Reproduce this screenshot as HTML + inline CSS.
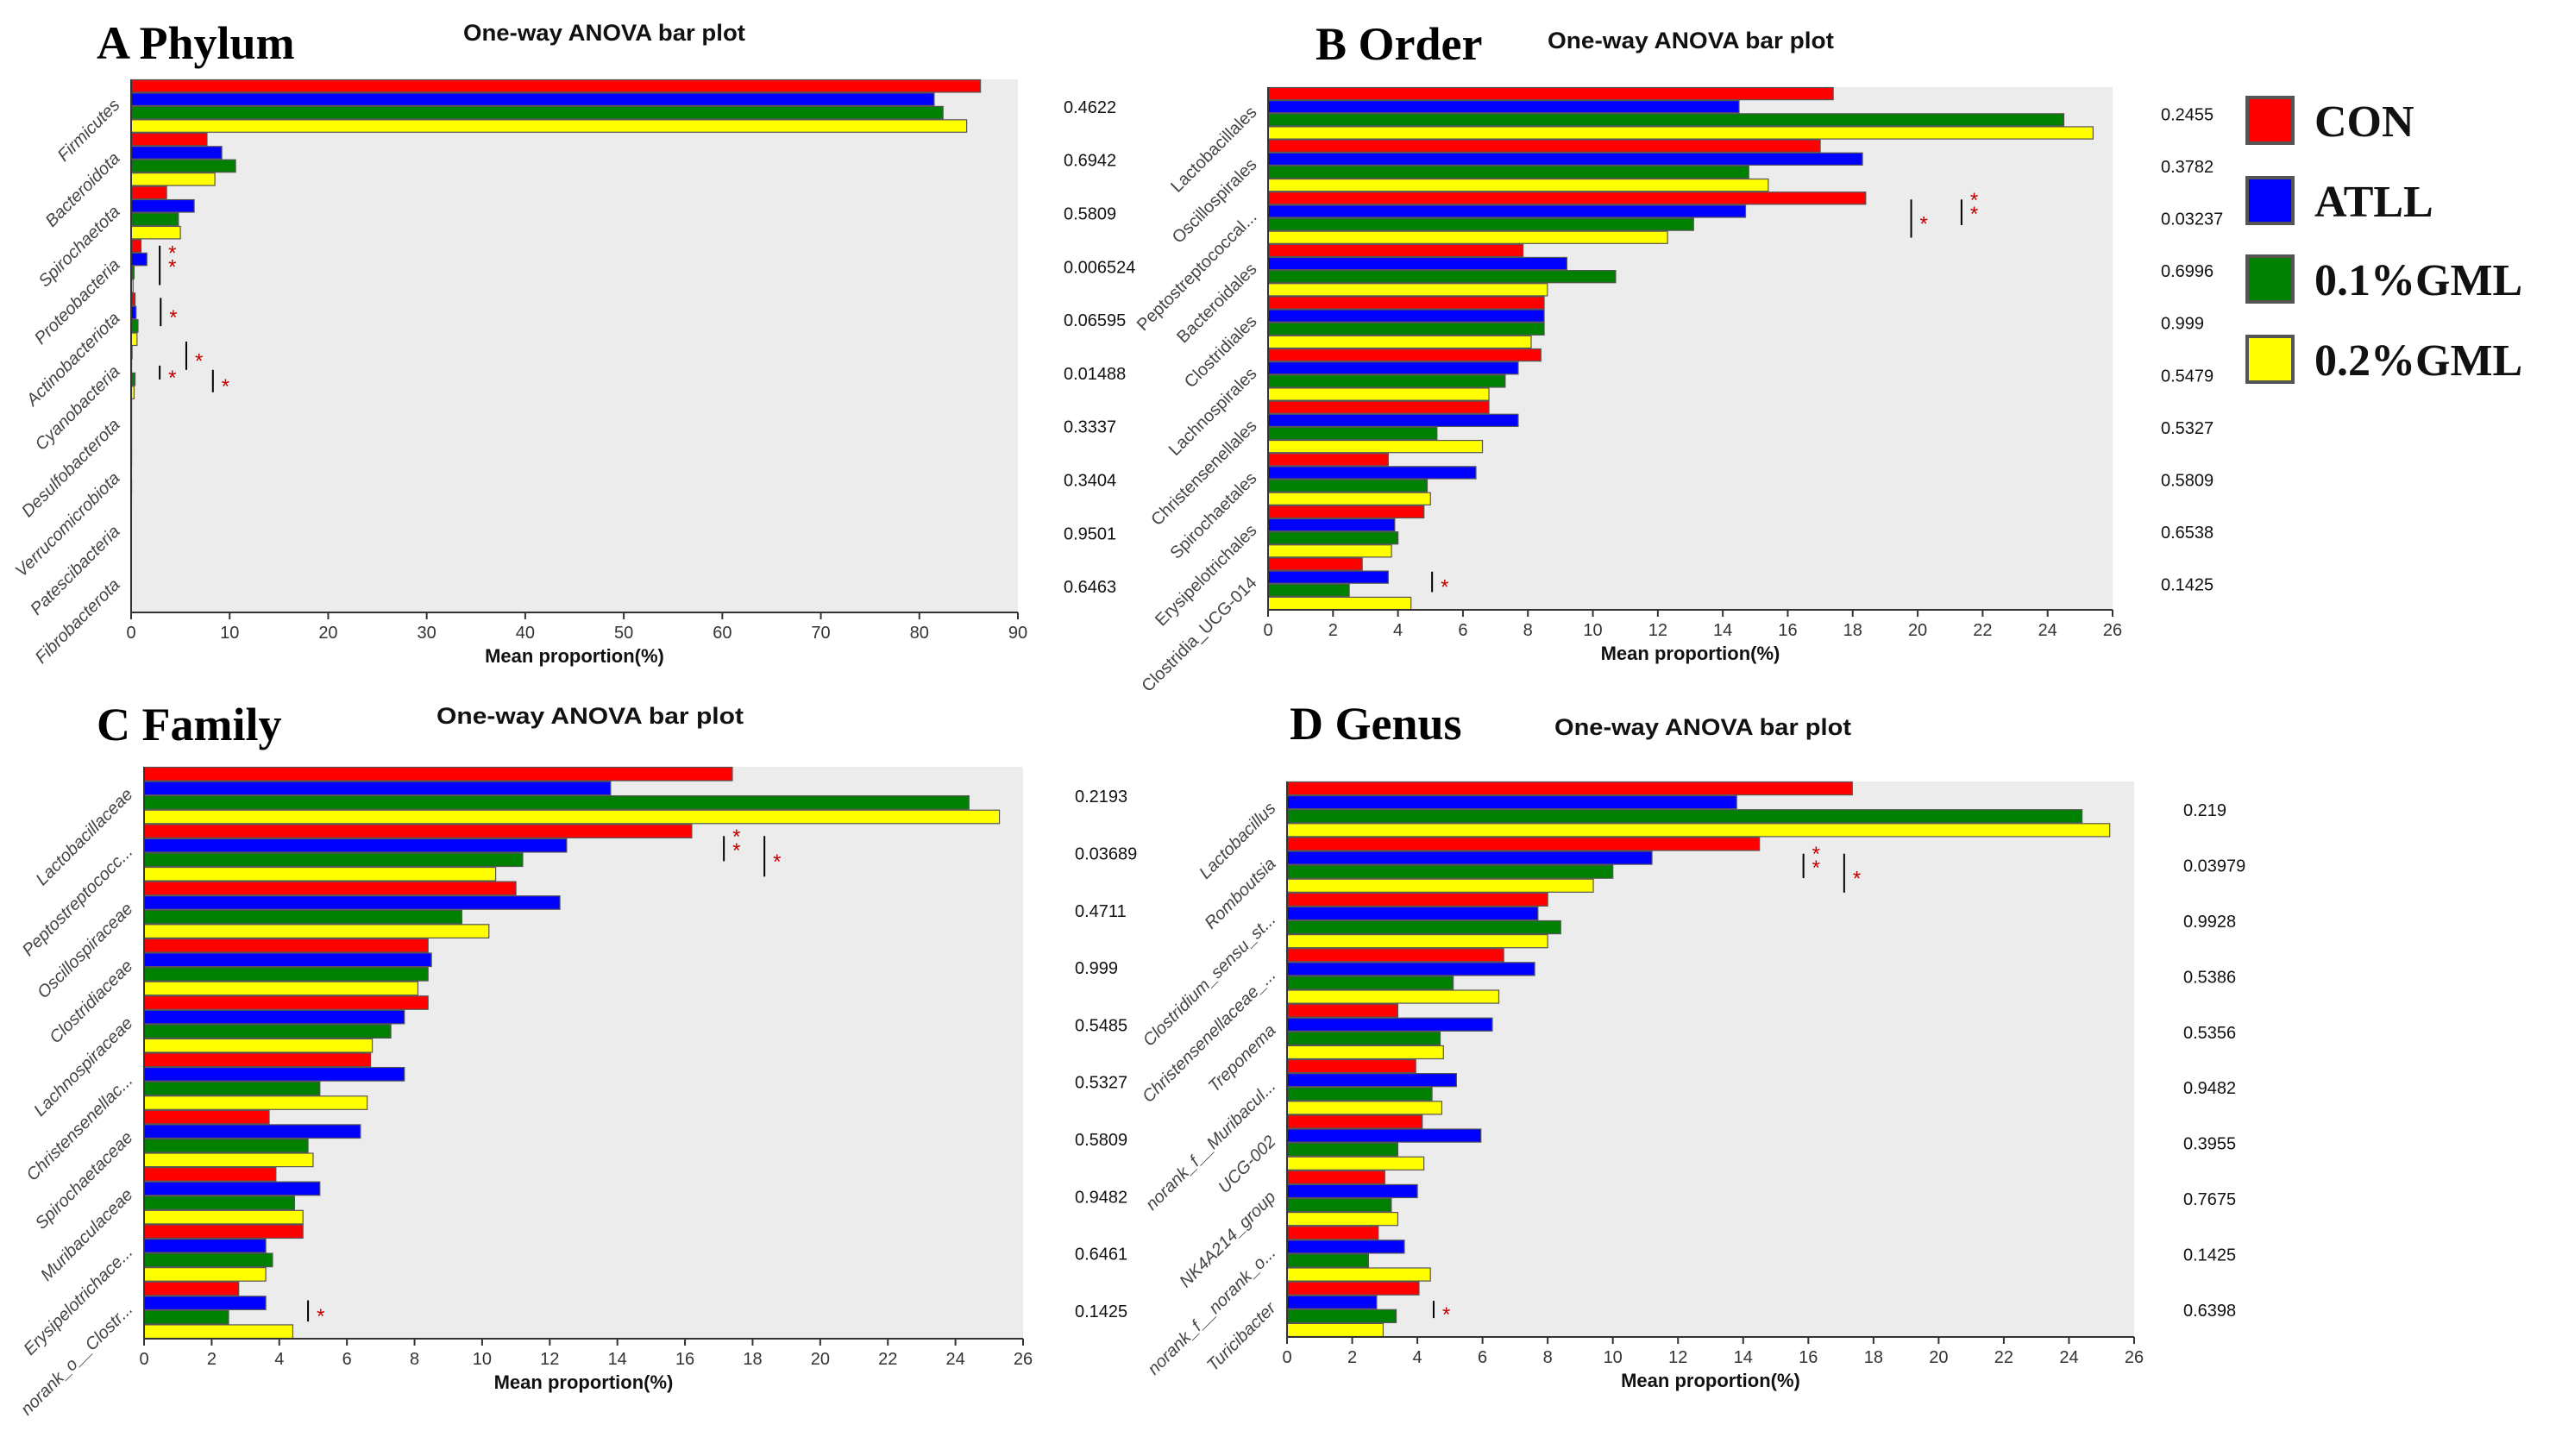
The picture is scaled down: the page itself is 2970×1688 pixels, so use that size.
<!DOCTYPE html>
<html><head><meta charset="utf-8">
<style>
html,body{margin:0;padding:0;background:#fff;}
svg{display:block;}
text{font-family:"Liberation Sans",sans-serif;}
</style></head>
<body>
<svg id="fig" width="2970" height="1688" viewBox="0 0 2970 1688" xmlns="http://www.w3.org/2000/svg"></svg>
<script>
// ---- Shared ----
const groups = ["CON","ATLL","0.1%GML","0.2%GML"];
const groupColors = ["#ff0000","#0000ff","#008000","#ffff00"];

// ---- Panel A: Phylum ----
const catsA = ["Firmicutes","Bacteroidota","Spirochaetota","Proteobacteria","Actinobacteriota","Cyanobacteria","Desulfobacterota","Verrucomicrobiota","Patescibacteria","Fibrobacterota"];
const conA  = [86.2,7.7,3.6,1.0,0.4,0.1,0.05,0.05,0.03,0.03];
const atllA = [81.5,9.2,6.4,1.6,0.5,0.05,0.05,0.04,0.03,0.03];
const g1A   = [82.4,10.6,4.8,0.3,0.7,0.4,0.05,0.05,0.03,0.03];
const g2A   = [84.8,8.5,5.0,0.2,0.6,0.3,0.05,0.04,0.03,0.03];
const pA    = ["0.4622","0.6942","0.5809","0.006524","0.06595","0.01488","0.3337","0.3404","0.9501","0.6463"];
const ticksA = [0,10,20,30,40,50,60,70,80,90];
const sigA = [[3,2.9,0.12,0.86,"**"],[4,3.0,0.1,0.63,"*"],[5,5.6,-0.08,0.45,"*"],[5,2.9,0.37,0.63,"*"],[5,8.3,0.45,0.87,"*"]];

// ---- Panel B: Order ----
const catsB = ["Lactobacillales","Oscillospirales","Peptostreptococcal...","Bacteroidales","Clostridiales","Lachnospirales","Christensenellales","Spirochaetales","Erysipelotrichales","Clostridia_UCG-014"];
const conB  = [17.4,17.0,18.4,7.85,8.5,8.4,6.8,3.7,4.8,2.9];
const atllB = [14.5,18.3,14.7,9.2,8.5,7.7,7.7,6.4,3.9,3.7];
const g1B   = [24.5,14.8,13.1,10.7,8.5,7.3,5.2,4.9,4.0,2.5];
const g2B   = [25.4,15.4,12.3,8.6,8.1,6.8,6.6,5.0,3.8,4.4];
const pB    = ["0.2455","0.3782","0.03237","0.6996","0.999","0.5479","0.5327","0.5809","0.6538","0.1425"];
const ticksB = [0,2,4,6,8,10,12,14,16,18,20,22,24,26];
const sigB = [[2,19.8,0.15,0.88,"*"],[2,21.35,0.15,0.64,"**"],[9,5.05,0.27,0.66,"*"]];

// ---- Panel C: Family ----
const catsC = ["Lactobacillaceae","Peptostreptococc...","Oscillospiraceae","Clostridiaceae","Lachnospiraceae","Christensenellac...","Spirochaetaceae","Muribaculaceae","Erysipelotrichace...","norank_o__Clostr..."];
const conC  = [17.4,16.2,11.0,8.4,8.4,6.7,3.7,3.9,4.7,2.8];
const atllC = [13.8,12.5,12.3,8.5,7.7,7.7,6.4,5.2,3.6,3.6];
const g1C   = [24.4,11.2,9.4,8.4,7.3,5.2,4.85,4.45,3.8,2.5];
const g2C   = [25.3,10.4,10.2,8.1,6.75,6.6,5.0,4.7,3.6,4.4];
const pC    = ["0.2193","0.03689","0.4711","0.999","0.5485","0.5327","0.5809","0.9482","0.6461","0.1425"];
const ticksC = [0,2,4,6,8,10,12,14,16,18,20,22,24,26];
const sigC = [[1,17.15,0.21,0.65,"**"],[1,18.35,0.21,0.92,"*"],[9,4.85,0.33,0.7,"*"]];

// ---- Panel D: Genus ----
const catsD = ["Lactobacillus","Romboutsia","Clostridium_sensu_st...","Christensenellaceae_...","Treponema","norank_f__Muribacul...","UCG-002","NK4A214_group","norank_f__norank_o...","Turicibacter"];
const conD  = [17.35,14.5,8.0,6.65,3.4,3.95,4.15,3.0,2.8,4.05];
const atllD = [13.8,11.2,7.7,7.6,6.3,5.2,5.95,4.0,3.6,2.75];
const g1D   = [24.4,10.0,8.4,5.1,4.7,4.45,3.4,3.2,2.5,3.35];
const g2D   = [25.25,9.4,8.0,6.5,4.8,4.75,4.2,3.4,4.4,2.95];
const pD    = ["0.219","0.03979","0.9928","0.5386","0.5356","0.9482","0.3955","0.7675","0.1425","0.6398"];
const ticksD = [0,2,4,6,8,10,12,14,16,18,20,22,24,26];
const sigD = [[1,15.85,0.3,0.74,"**"],[1,17.1,0.3,1.0,"*"],[9,4.5,0.35,0.66,"*"]];

const NS = "http://www.w3.org/2000/svg";
const svg = document.getElementById("fig");
function mk(tag, attrs, parent){
  const e = document.createElementNS(NS, tag);
  for (const k in attrs) e.setAttribute(k, attrs[k]);
  (parent||svg).appendChild(e);
  return e;
}
const SERIF = 'font-family:"Liberation Serif",serif;font-weight:bold;';

function panel(cfg, cats, series, pvals, ticks, sigs){
  const g = mk("g", {});
  
  
  const L=cfg.left, R=cfg.right, T=cfg.top, B=cfg.bottom, max=ticks[ticks.length-1];
  const xs = v => L + (v/max)*(R-L);
  const band = (B-T)/cats.length;
  const ys = i => T + i*band;

  const t = mk("text", {x:cfg.titleX, y:cfg.titleY, style:SERIF+"font-size:54px;", fill:"#000"}, g);
  t.setAttribute('xml:space','preserve');
  t.textContent = cfg.title;
  
  
  const st = mk("text", {x:cfg.subX, y:cfg.subY, "font-weight":"bold", "font-size":27, textLength:cfg.subW, lengthAdjust:"spacingAndGlyphs", fill:"#111"}, g);
  st.textContent = "One-way ANOVA bar plot";
  
  

  const bg = mk("rect", {x:L, y:T, width:R-L, height:B-T, fill:"#ececec"}, g);
  
  

  const bh = band/4;
  cats.forEach((c, i) => {
    series.forEach((s, k) => {
      const r = mk("rect", {x:L, y:ys(i)+k*bh+0.5, width:Math.max(0, xs(s[i])-L), height:bh-1, fill:groupColors[k], stroke:"#555", "stroke-width":1.2}, g);
      
      
    });
    const cx = L-12, cy = ys(i)+band/2;
    const lt = mk("text", {x:cx, y:cy, "text-anchor":"end", "font-size":20, fill:"#444", "font-style":cfg.italic?"italic":"normal", transform:`rotate(-45 ${cx} ${cy})`}, g);
    lt.textContent = c;
    
    
    const pt = mk("text", {x:cfg.pX, y:cy+8, "font-size":20, fill:"#111"}, g);
    pt.textContent = pvals[i];
    
    
  });

  sigs.forEach(s => {
    const [ci, xv, f0, f1, stars] = s;
    const x = xs(xv), y0 = ys(ci)+f0*band, y1 = ys(ci)+f1*band;
    const ln = mk("line", {x1:x, x2:x, y1:y0, y2:y1, stroke:"#000", "stroke-width":2}, g);
    
    
    const ym = (y0+y1)/2;
    if (stars === "**") {
      [ym-6, ym+10].forEach(yy => {
        const s1 = mk("text", {x:x+10, y:yy, "font-size":24, fill:"#c00000"}, g);
        s1.textContent = "*";
        
        
      });
    } else {
      const s1 = mk("text", {x:x+10, y:ym+14, "font-size":24, fill:"#c00000"}, g);
      s1.textContent = "*";
      
      
    }
  });

  const ax = mk("path", {d:`M${L},${T} V${B} H${R}`, stroke:"#333", "stroke-width":2, fill:"none"}, g);
  
  
  ticks.forEach(tv => {
    const x = xs(tv);
    const tk = mk("line", {x1:x, x2:x, y1:B, y2:B+8, stroke:"#333", "stroke-width":2}, g);
    
    
    const tl = mk("text", {x:x, y:B+30, "text-anchor":"middle", "font-size":20, fill:"#333"}, g);
    tl.textContent = tv;
    
    
  });
  const at = mk("text", {x:(L+R)/2, y:B+58, "text-anchor":"middle", "font-size":22, "font-weight":"bold", fill:"#111"}, g);
  at.textContent = "Mean proportion(%)";
  
  
}

panel({id:"phylum", left:152, right:1180, top:92, bottom:710, title:"A  Phylum", titleX:112, titleY:68, subX:537, subY:47, subW:327, pX:1233, italic:true},
  catsA, [conA,atllA,g1A,g2A], pA, ticksA, sigA);
panel({id:"order", left:1470, right:2449, top:101, bottom:707, title:"B  Order", titleX:1525, titleY:69, subX:1794, subY:56, subW:332, pX:2505, italic:false},
  catsB, [conB,atllB,g1B,g2B], pB, ticksB, sigB);
panel({id:"family", left:167, right:1186, top:889, bottom:1552, title:"C  Family", titleX:112, titleY:858, subX:506, subY:839, subW:356, pX:1246, italic:true},
  catsC, [conC,atllC,g1C,g2C], pC, ticksC, sigC);
panel({id:"genus", left:1492, right:2474, top:906, bottom:1550, title:"D  Genus", titleX:1495, titleY:857, subX:1802, subY:852, subW:344, pX:2531, italic:true},
  catsD, [conD,atllD,g1D,g2D], pD, ticksD, sigD);

const lg = mk("g", {});


const legY = [111, 204, 295, 388];
groups.forEach((name, k) => {
  const r = mk("rect", {x:2605, y:legY[k]+2, width:53, height:53, fill:groupColors[k], stroke:"#555", "stroke-width":4}, lg);
  
  
  const t = mk("text", {x:2683, y:legY[k]+47, style:SERIF+"font-size:52px;", fill:"#111"}, lg);
  t.textContent = name;
  
  
});
</script>
</body></html>
